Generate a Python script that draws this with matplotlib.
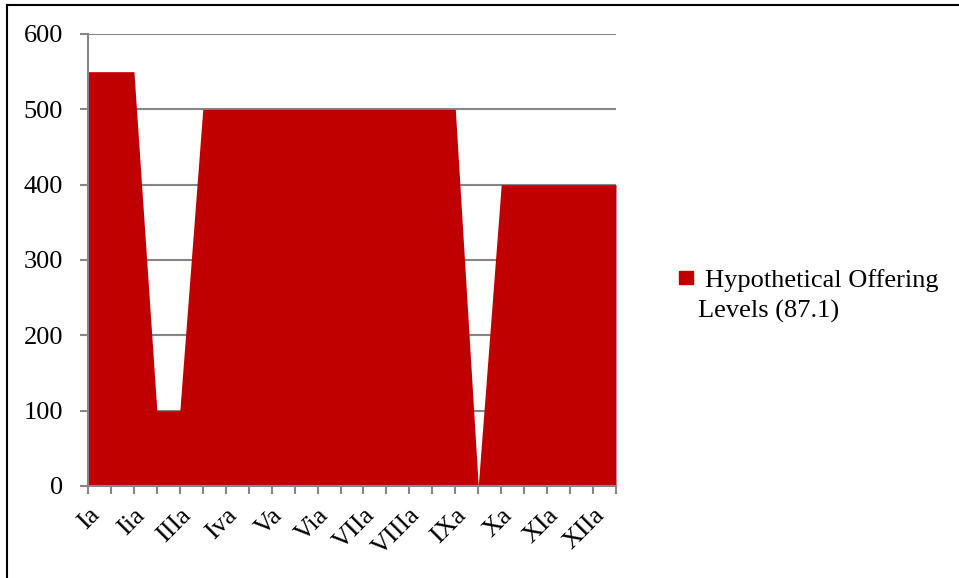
import numpy as np
import matplotlib.pyplot as plt
from matplotlib.lines import Line2D
from matplotlib.patches import Rectangle

plt.rcParams['font.family'] = ['Liberation Serif', 'DejaVu Serif']

# 24 categories, labelled on every second one
categories = ["Ia", "", "Iia", "", "IIIa", "", "Iva", "", "Va", "", "Via", "",
              "VIIa", "", "VIIIa", "", "IXa", "", "Xa", "", "XIa", "", "XIIa", ""]
offering_levels = [550, 550, 550, 100, 100,
                   500, 500, 500, 500, 500, 500, 500, 500, 500, 500, 500, 500,
                   0,
                   400, 400, 400, 400, 400, 400]
series_label = ["Hypothetical Offering", "Levels (87.1)"]

W, H = 959, 578
fig = plt.figure(figsize=(W / 100, H / 100), dpi=100)
ax = fig.add_axes([88 / W, 1 - 486 / H, (616 - 88) / W, (486 - 34) / H])

x = np.arange(len(categories))
ax.fill_between(x, 0, offering_levels, color="#C00000", linewidth=0, zorder=2)

ax.set_xlim(0, len(categories) - 1)
ax.set_ylim(0, 600)
ax.set_yticks(np.arange(0, 601, 100))
ax.set_xticks(x)
ax.set_xticklabels(categories, rotation=45, ha="right", va="top",
                   rotation_mode="anchor", fontsize=19)
ax.tick_params(axis="y", labelsize=19, length=6, width=1.5, color="#868686", pad=12)
ax.tick_params(axis="x", length=6, width=1.5, color="#868686", pad=7)

ax.grid(True, axis="y", color="#868686", linewidth=1.5, zorder=0)
ax.set_axisbelow(True)
for side in ["top", "right"]:
    ax.spines[side].set_visible(False)
for side in ["left", "bottom"]:
    ax.spines[side].set_color("#868686")
    ax.spines[side].set_linewidth(1.5)
    ax.spines[side].set_zorder(3)

# legend drawn by hand: square marker plus two wrapped lines
fig.add_artist(Rectangle((679 / W, 1 - 284 / H), 14 / W, 13 / H,
                         transform=fig.transFigure, color="#C00000"))
fig.text(705 / W, 1 - 287 / H, series_label[0], fontsize=19, va="baseline")
fig.text(698 / W, 1 - 318 / H, series_label[1], fontsize=19, va="baseline")

# frame lines along top and left edge
fig.add_artist(Line2D([7 / W, 958 / W], [1 - 5 / H, 1 - 5 / H], color="black",
                      linewidth=1.5, transform=fig.transFigure))
fig.add_artist(Line2D([7 / W, 7 / W], [1 - 5 / H, 0], color="black",
                      linewidth=1.5, transform=fig.transFigure))

fig.savefig("out.png", dpi=100)
